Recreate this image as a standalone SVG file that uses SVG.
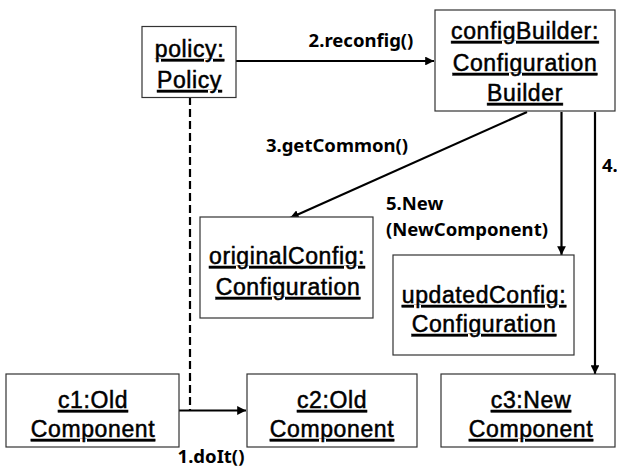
<svg xmlns="http://www.w3.org/2000/svg" width="617" height="469" viewBox="0 0 617 469">
<defs>
<marker id="arr" viewBox="0 0 10 10" refX="10" refY="5" markerWidth="4" markerHeight="4" markerUnits="strokeWidth" orient="auto">
<path d="M0,0 L10,5 L0,10 z" fill="#000"/>
</marker>
<style>
.box{fill:#fff;stroke:#333;stroke-width:1.2}
.nt{font-family:"Liberation Sans",Arial,sans-serif;font-size:23px;letter-spacing:0.6px;text-anchor:middle;fill:#000;stroke:#000;stroke-width:0.5;text-decoration:underline}
.lb{font-family:"Noto Sans","Liberation Sans",sans-serif;font-weight:bold;font-size:18.5px;fill:#000}
.cn{fill:none;stroke:#000;stroke-width:2.2}
.dash{fill:none;stroke:#000;stroke-width:2.2;stroke-dasharray:8 4}
</style>
</defs>
<rect width="617" height="469" fill="#fff"/>
<g id="connectors">
<line class="dash" x1="190" y1="97" x2="190" y2="410"/>
<line class="cn" x1="236" y1="61" x2="434" y2="61" marker-end="url(#arr)"/>
<line class="cn" x1="179" y1="410.5" x2="246" y2="410.5" marker-end="url(#arr)"/>
<line class="cn" x1="527" y1="112" x2="290" y2="218" marker-end="url(#arr)"/>
<line class="cn" x1="561.5" y1="112" x2="561.5" y2="255" marker-end="url(#arr)"/>
<line class="cn" x1="595" y1="112" x2="595" y2="374" marker-end="url(#arr)"/>
<text class="lb" x="361" y="47" text-anchor="middle">2.reconfig()</text>
<text class="lb" x="211" y="463" text-anchor="middle">1.doIt()</text>
<text class="lb" x="337" y="152" text-anchor="middle">3.getCommon()</text>
<text class="lb" x="386" y="210">5.New</text>
<text class="lb" x="386" y="236">(NewComponent)</text>
<text class="lb" x="602" y="172">4.</text>
</g>
<g id="policy">
<rect class="box" x="142" y="26.5" width="94" height="71"/>
<text class="nt" x="189.5" y="57">policy:</text>
<text class="nt" x="189.5" y="88">Policy</text>
</g>
<g id="configBuilder">
<rect class="box" x="435" y="10" width="180" height="101"/>
<text class="nt" x="525" y="39">configBuilder:</text>
<text class="nt" x="525" y="71">Configuration</text>
<text class="nt" x="525" y="101">Builder</text>
</g>
<g id="originalConfig">
<rect class="box" x="200" y="217" width="173" height="101"/>
<text class="nt" x="287" y="264">originalConfig:</text>
<text class="nt" x="288" y="295">Configuration</text>
</g>
<g id="updatedConfig">
<rect class="box" x="393" y="255" width="181" height="100"/>
<text class="nt" x="484" y="303">updatedConfig:</text>
<text class="nt" x="484" y="332">Configuration</text>
</g>
<g id="c1">
<rect class="box" x="6" y="374" width="173" height="73"/>
<text class="nt" x="93" y="408">c1:Old</text>
<text class="nt" x="93" y="437">Component</text>
</g>
<g id="c2">
<rect class="box" x="247" y="374" width="170" height="73"/>
<text class="nt" x="332" y="408">c2:Old</text>
<text class="nt" x="332" y="437">Component</text>
</g>
<g id="c3">
<rect class="box" x="441" y="374" width="174" height="73"/>
<text class="nt" x="531" y="408">c3:New</text>
<text class="nt" x="531" y="437">Component</text>
</g>
</svg>
